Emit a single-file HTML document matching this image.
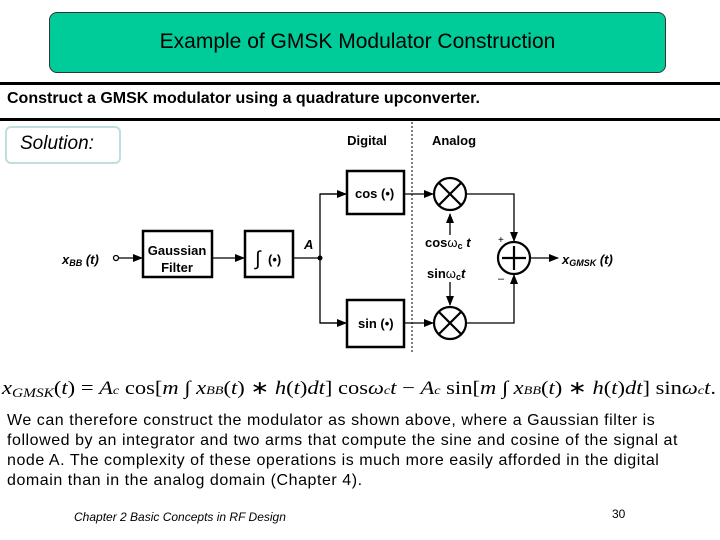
<!DOCTYPE html>
<html><head><style>
body{margin:0;width:720px;height:540px;background:#fff;position:relative;overflow:hidden;font-family:"Liberation Sans",sans-serif}
.a{position:absolute;white-space:nowrap}
</style></head><body>
<div class="a" style="left:49px;top:12px;width:615px;height:59px;background:#00cc99;border:1px solid #333;border-radius:8px;"></div>
<div class="a" style="left:49px;top:30px;width:617px;text-align:center;font-size:21px;">Example of GMSK Modulator Construction</div>
<div class="a" style="left:0;top:82px;width:720px;height:3px;background:#000"></div>
<div class="a" style="left:7px;top:90px;font-size:16px;font-weight:bold;">Construct a GMSK modulator using a quadrature upconverter.</div>
<div class="a" style="left:0;top:118px;width:720px;height:3px;background:#000"></div>
<div class="a" style="left:5px;top:126px;width:112px;height:34px;border:2px solid #bfdede;border-radius:6px;"></div>
<div class="a" style="left:20px;top:133px;font-size:19px;font-style:italic;">Solution:</div>
<svg class="a" style="left:0;top:0" width="720" height="540">
<defs><marker id="ar" markerWidth="10" markerHeight="8" refX="9" refY="4" orient="auto" markerUnits="userSpaceOnUse"><path d="M0,0L10,4L0,8z"/></marker></defs>
<g font-family="Liberation Sans" font-weight="bold" font-size="13" text-anchor="middle">
<text x="367" y="145">Digital</text><text x="454" y="145">Analog</text>
</g>
<line x1="412" y1="122" x2="412" y2="352" stroke="#000" stroke-dasharray="2,2"/>
<g fill="none" stroke="#000" stroke-width="2.5">
<rect x="143" y="231" width="69" height="46"/><rect x="245" y="231" width="48" height="46"/>
<rect x="347" y="171" width="57" height="43"/><rect x="347" y="300" width="57" height="47"/>
</g>
<g stroke="#000" stroke-width="1.3" fill="none">
<circle cx="116" cy="258" r="2.5"/>
<line x1="119" y1="258" x2="142" y2="258" marker-end="url(#ar)"/>
<line x1="212" y1="258" x2="244" y2="258" marker-end="url(#ar)"/>
<line x1="293" y1="258" x2="320" y2="258"/>
<polyline points="346,194 320,194 320,323 346,323" />
<line x1="320" y1="194" x2="346" y2="194" marker-end="url(#ar)"/>
<line x1="320" y1="323" x2="346" y2="323" marker-end="url(#ar)"/>
<line x1="404" y1="194" x2="433" y2="194" marker-end="url(#ar)"/>
<line x1="404" y1="323" x2="433" y2="323" marker-end="url(#ar)"/>
<line x1="450" y1="235" x2="450" y2="214" marker-end="url(#ar)"/>
<line x1="450" y1="282" x2="450" y2="305" marker-end="url(#ar)"/>
<polyline points="466,194 514,194 514,241" marker-end="url(#ar)"/>
<polyline points="466,323 514,323 514,275" marker-end="url(#ar)"/>
<line x1="530" y1="258" x2="558" y2="258" marker-end="url(#ar)"/>
</g>
<circle cx="320" cy="258" r="2.5"/>
<g stroke="#000" stroke-width="2.2" fill="none">
<circle cx="450" cy="194" r="16"/><path d="M439,183L461,205M461,183L439,205"/>
<circle cx="450" cy="323" r="16"/><path d="M439,312L461,334M461,312L439,334"/>
<circle cx="514" cy="258" r="16"/><path d="M514,246V270M502,258H526"/>
</g>
<g font-family="Liberation Sans" font-weight="bold" font-size="13">
<text x="177" y="255" text-anchor="middle">Gaussian</text><text x="177" y="272" text-anchor="middle">Filter</text>
<text x="255" y="265" font-size="20" font-weight="normal">∫</text><text x="268" y="264">(•)</text>
<text x="355" y="198">cos (•)</text><text x="358" y="328">sin (•)</text>
<text x="304" y="249" font-style="italic">A</text>
<text x="62" y="264" font-style="italic">x<tspan font-size="9" dy="2">BB</tspan><tspan dy="-2"> (t)</tspan></text>
<text x="425" y="247">cos<tspan font-weight="normal">ω</tspan><tspan font-size="9" dy="2">c</tspan><tspan dy="-2" font-style="italic"> t</tspan></text>
<text x="427" y="278">sin<tspan font-weight="normal">ω</tspan><tspan font-size="9" dy="2">c</tspan><tspan dy="-2" font-style="italic">t</tspan></text>
<text x="562" y="264" font-style="italic">x<tspan font-size="9" dy="2">GMSK</tspan><tspan dy="-2"> (t)</tspan></text>
<text x="498" y="243" font-size="10" font-weight="normal">+</text><text x="498" y="282" font-size="11" font-weight="normal">–</text>
</g>
<text x="2" y="394" font-family="Liberation Serif" font-size="19" textLength="714" lengthAdjust="spacingAndGlyphs"><tspan font-style="italic">x</tspan><tspan font-style="italic" font-size="13" dy="3">GMSK</tspan><tspan dy="-3">(</tspan><tspan font-style="italic">t</tspan>) = <tspan font-style="italic">A</tspan><tspan font-size="12" font-style="italic">c</tspan> cos[<tspan font-style="italic">m</tspan> ∫ <tspan font-style="italic">x</tspan><tspan font-style="italic" font-size="12">BB</tspan>(<tspan font-style="italic">t</tspan>) ∗ <tspan font-style="italic">h</tspan>(<tspan font-style="italic">t</tspan>)<tspan font-style="italic">dt</tspan>] cos<tspan font-style="italic">ω</tspan><tspan font-size="12" font-style="italic">c</tspan><tspan font-style="italic">t</tspan> − <tspan font-style="italic">A</tspan><tspan font-size="12" font-style="italic">c</tspan> sin[<tspan font-style="italic">m</tspan> ∫ <tspan font-style="italic">x</tspan><tspan font-style="italic" font-size="12">BB</tspan>(<tspan font-style="italic">t</tspan>) ∗ <tspan font-style="italic">h</tspan>(<tspan font-style="italic">t</tspan>)<tspan font-style="italic">dt</tspan>] sin<tspan font-style="italic">ω</tspan><tspan font-size="12" font-style="italic">c</tspan><tspan font-style="italic">t</tspan>.</text>
</svg>
<div class="a" style="left:7px;top:411px;font-size:16px;letter-spacing:0.55px;line-height:20px;">We can therefore construct the modulator as shown above, where a Gaussian filter is<br>followed by an integrator and two arms that compute the sine and cosine of the signal at<br>node A. The complexity of these operations is much more easily afforded in the digital<br>domain than in the analog domain (Chapter 4).</div>
<div class="a" style="left:74px;top:510px;font-size:12px;font-style:italic;">Chapter 2 Basic Concepts in RF Design</div>
<div class="a" style="left:612px;top:507px;font-size:12px;">30</div>
</body></html>
